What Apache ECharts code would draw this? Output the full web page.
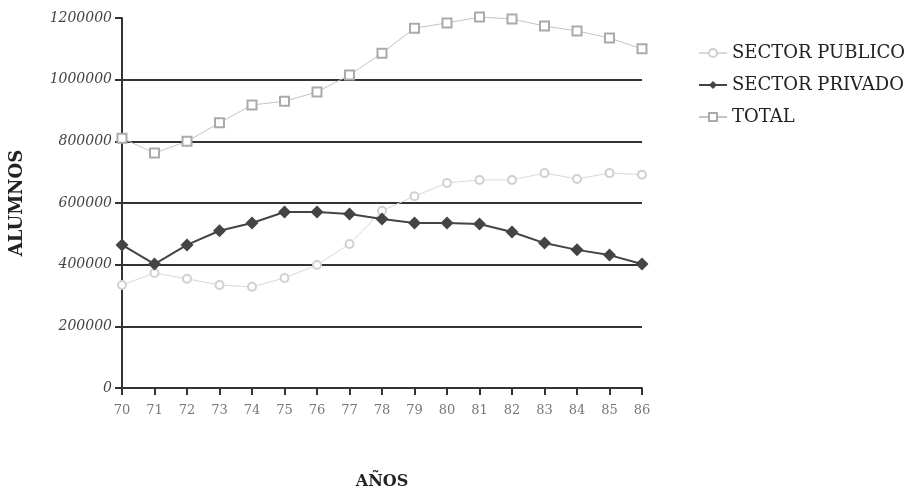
<!DOCTYPE html>
<html>
<head>
<meta charset="utf-8">
<script src="https://cdn.jsdelivr.net/npm/echarts@6/dist/echarts.min.js"></script>
<style>html,body{margin:0;padding:0;background:#fff}#c{width:924px;height:491px}</style>
</head>
<body>
<div id="c"></div>
<script>
const years = ['70','71','72','73','74','75','76','77','78','79','80','81','82','83','84','85','86'];
const publico = [334000,373000,354000,334000,328000,357000,399000,467000,575000,622000,665000,675000,675000,697000,678000,697000,692000];
const privado = [464000,402000,464000,510000,535000,571000,571000,564000,548000,535000,535000,532000,506000,470000,448000,431000,402000];
const total = [810000,762000,800000,860000,918000,930000,960000,1015000,1086000,1167000,1184000,1203000,1197000,1174000,1158000,1135000,1100000];
const yTicks = [0,200000,400000,600000,800000,1000000,1200000];

const serif = '"DejaVu Serif", "Liberation Serif", serif';
const chart = echarts.init(document.getElementById('c'));
chart.setOption({
  animation: false,
  backgroundColor: '#fff',
  grid: {left: 122, right: 282, top: 18, bottom: 103, outerBoundsMode: 'none', containLabel: false},
  legend: {
    orient: 'vertical', left: 693, top: 39, itemGap: 14, itemWidth: 28, itemHeight: 10,
    textStyle: {fontFamily: serif, fontSize: 18, color: '#222'},
    data: ['SECTOR PUBLICO','SECTOR PRIVADO','TOTAL']
  },
  xAxis: {
    type: 'category', data: years, boundaryGap: false,
    name: 'AÑOS', nameLocation: 'middle', nameGap: 86,
    nameTextStyle: {fontFamily: serif, fontWeight: 'bold', fontSize: 16, color: '#222'},
    axisLine: {lineStyle: {color: '#333', width: 2}},
    axisTick: {show: true, length: 7, lineStyle: {color: '#333', width: 2}, alignWithLabel: true},
    axisLabel: {fontFamily: serif, fontSize: 13, color: '#777', margin: 16},
    splitLine: {show: false}
  },
  yAxis: {
    type: 'value', min: 0, max: 1200000, interval: 200000,
    name: 'ALUMNOS', nameLocation: 'middle', nameGap: 96, nameRotate: 90,
    nameTextStyle: {fontFamily: serif, fontWeight: 'bold', fontSize: 18, color: '#222'},
    axisLine: {show: true, lineStyle: {color: '#333', width: 2}},
    axisTick: {show: true, length: 7, lineStyle: {color: '#333', width: 2}},
    axisLabel: {fontFamily: serif, fontStyle: 'italic', fontSize: 14, color: '#444', margin: 10,
      formatter: v => yTicks.includes(v) ? String(v) : ''},
    splitLine: {show: true, lineStyle: {color: ['#333','#333','#333','#333','#333','#333','rgba(0,0,0,0)'], width: 2}}
  },
  series: [
    {name: 'SECTOR PUBLICO', type: 'line', data: publico, symbol: 'emptyCircle', symbolSize: 8, clip: false,
     lineStyle: {color: '#d8d8d8', width: 1}, itemStyle: {color: '#d0d0d0', borderWidth: 1.5}, z: 2},
    {name: 'SECTOR PRIVADO', type: 'line', data: privado, symbol: 'diamond', symbolSize: 13, clip: false,
     lineStyle: {color: '#444', width: 2}, itemStyle: {color: '#444'}, z: 4},
    {name: 'TOTAL', type: 'line', data: total, symbol: 'emptyRect', symbolSize: 9, clip: false,
     lineStyle: {color: '#c4c4c4', width: 1}, itemStyle: {color: '#aaa', borderWidth: 1.5}, z: 3}
  ]
});
</script>
</body>
</html>
